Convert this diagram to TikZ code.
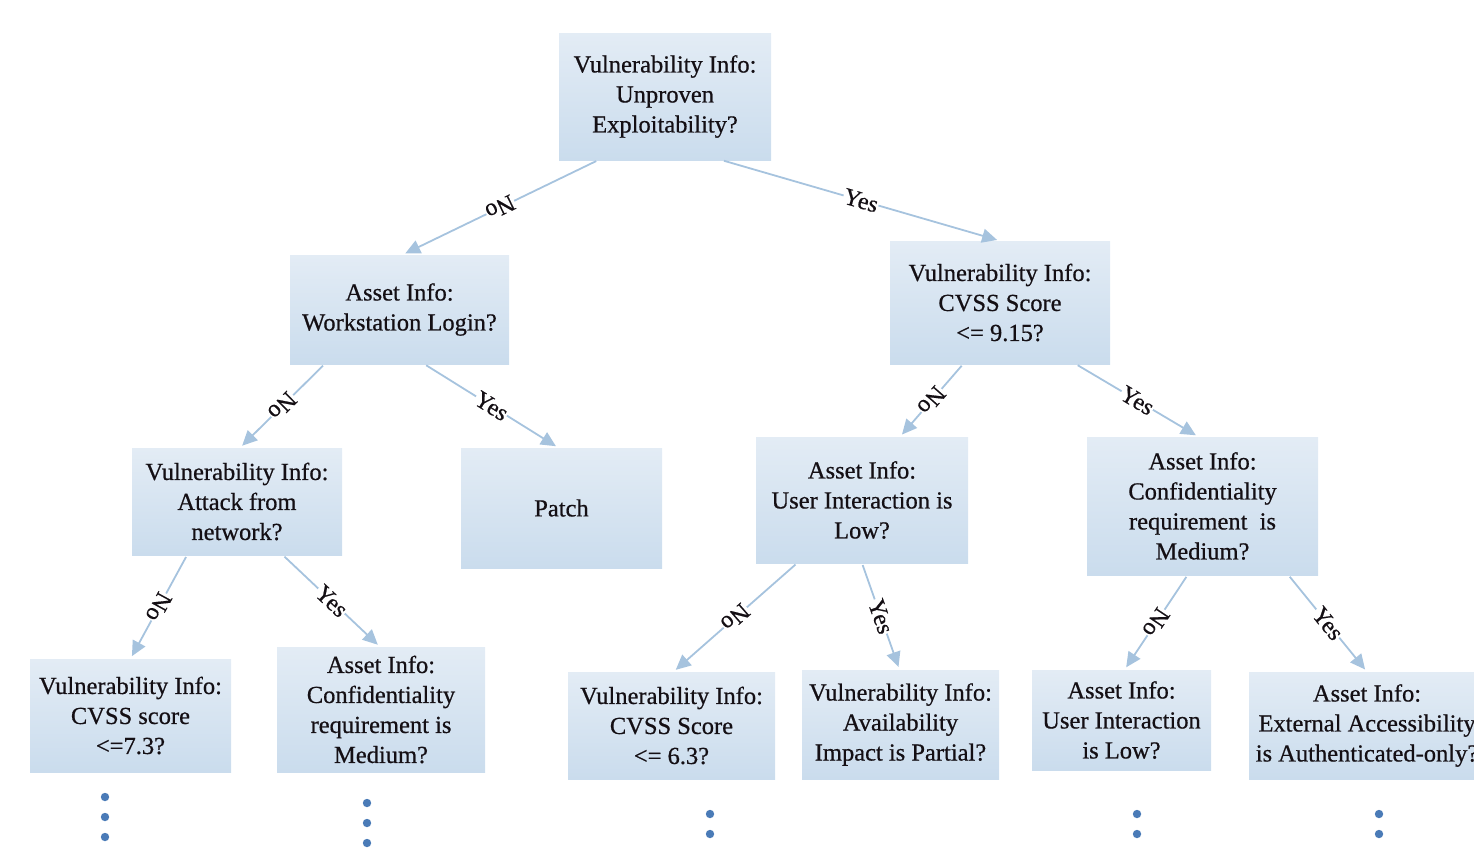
\documentclass[tikz,border=0pt]{standalone}
\usepackage{fontspec}
\setmainfont{Liberation Serif}
\newfontfamily\heavyserif{Liberation Serif}[FakeBold=0.6]
\usetikzlibrary{arrows.meta,shadings}
\definecolor{boxtop}{RGB}{227,236,245}
\definecolor{boxbot}{RGB}{202,220,237}
\definecolor{edgecol}{RGB}{166,195,222}
\definecolor{dotcol}{RGB}{74,123,183}
\definecolor{txtcol}{RGB}{20,15,20}
\tikzset{
  box/.style={rectangle, inner sep=0pt, align=center, text=txtcol,
    top color=boxtop, bottom color=boxbot,
    font=\heavyserif\fontsize{24.5}{30}\selectfont},
  edge/.style={draw=edgecol, line width=1.8pt, -{Triangle[length=15pt,width=14pt]},
    shorten <=2pt, shorten >=3pt},
  lab/.style={sloped, allow upside down, midway, fill=white, inner sep=0.6pt,
    text=txtcol, font=\heavyserif\fontsize{24}{26}\selectfont},
  dotmark/.style={fill=dotcol}
}
\begin{document}
\begin{tikzpicture}[x=1pt,y=-1pt]
\useasboundingbox (0,0) rectangle (1474,847);
\clip (0,0) rectangle (1474,847);
\node[box, minimum width=212pt, minimum height=127pt] (root) at (665,96.5) {Vulnerability Info:\\Unproven\\Exploitability?};
\node[box, minimum width=219pt, minimum height=109pt] (n2) at (399.5,309.5) {Asset Info:\\Workstation Login?};
\node[box, minimum width=220pt, minimum height=123pt] (n3) at (1000,302.5) {Vulnerability Info:\\CVSS Score\\\textless= 9.15?};
\node[box, minimum width=210pt, minimum height=107pt] (n4) at (237,501.5) {Vulnerability Info:\\Attack from\\network?};
\node[box, minimum width=201pt, minimum height=120pt] (n5) at (561.5,508) {Patch};
\node[box, minimum width=212pt, minimum height=126pt] (n6) at (862,500) {Asset Info:\\User Interaction is\\Low?};
\node[box, minimum width=231pt, minimum height=138pt] (n7) at (1202.5,506) {Asset Info:\\Confidentiality\\requirement\ \ is\\Medium?};
\node[box, minimum width=201pt, minimum height=113pt] (n8) at (130.5,715.5) {Vulnerability Info:\\CVSS score\\\textless=7.3?};
\node[box, minimum width=208pt, minimum height=125pt] (n9) at (381,709.5) {Asset Info:\\Confidentiality\\requirement is\\Medium?};
\node[box, minimum width=207pt, minimum height=107pt] (n10) at (671.5,725.5) {Vulnerability Info:\\CVSS Score\\\textless= 6.3?};
\node[box, minimum width=197pt, minimum height=109pt] (n11) at (900.5,724.5) {Vulnerability Info:\\Availability\\Impact is Partial?};
\node[box, minimum width=179pt, minimum height=100pt] (n12) at (1121.5,720) {Asset Info:\\User Interaction\\is Low?};
\node[box, minimum width=236pt, minimum height=107pt] (n13) at (1367,725.5) {Asset Info:\\External Accessibility\\is Authenticated-only?};

\draw[edge] ([xshift=-67pt]root.south) -- node[lab]{No} ([xshift=3pt]n2.north);
\draw[edge] ([xshift=57pt]root.south) -- node[lab]{Yes} (n3.north);
\draw[edge] ([xshift=-75pt]n2.south) -- node[lab]{No} ([xshift=3pt]n4.north);
\draw[edge] ([xshift=25pt]n2.south) -- node[lab]{Yes} ([xshift=-3pt]n5.north);
\draw[edge] ([xshift=-37pt]n3.south) -- node[lab]{No} ([xshift=38pt]n6.north);
\draw[edge] ([xshift=76pt]n3.south) -- node[lab]{Yes} ([xshift=-4pt]n7.north);
\draw[edge] ([xshift=-50pt]n4.south) -- node[lab]{No} (n8.north);
\draw[edge] ([xshift=46pt]n4.south) -- node[lab]{Yes} ([xshift=-1pt]n9.north);
\draw[edge] ([xshift=-65pt]n6.south) -- node[lab]{No} ([xshift=2pt]n10.north);
\draw[edge] (n6.south) -- node[lab]{Yes} ([xshift=-1pt]n11.north);
\draw[edge] ([xshift=-15pt]n7.south) -- node[lab]{No} ([xshift=3pt]n12.north);
\draw[edge] ([xshift=86pt]n7.south) -- node[lab]{Yes} (n13.north);

\foreach \y in {797,817,837} \fill[dotmark] (105,\y) circle (4.2pt);
\foreach \y in {803,823,843} \fill[dotmark] (367,\y) circle (4.2pt);
\foreach \y in {814,834} \fill[dotmark] (710,\y) circle (4.2pt);
\foreach \y in {814,834} \fill[dotmark] (1137,\y) circle (4.2pt);
\foreach \y in {814,834} \fill[dotmark] (1379,\y) circle (4.2pt);
\end{tikzpicture}
\end{document}
